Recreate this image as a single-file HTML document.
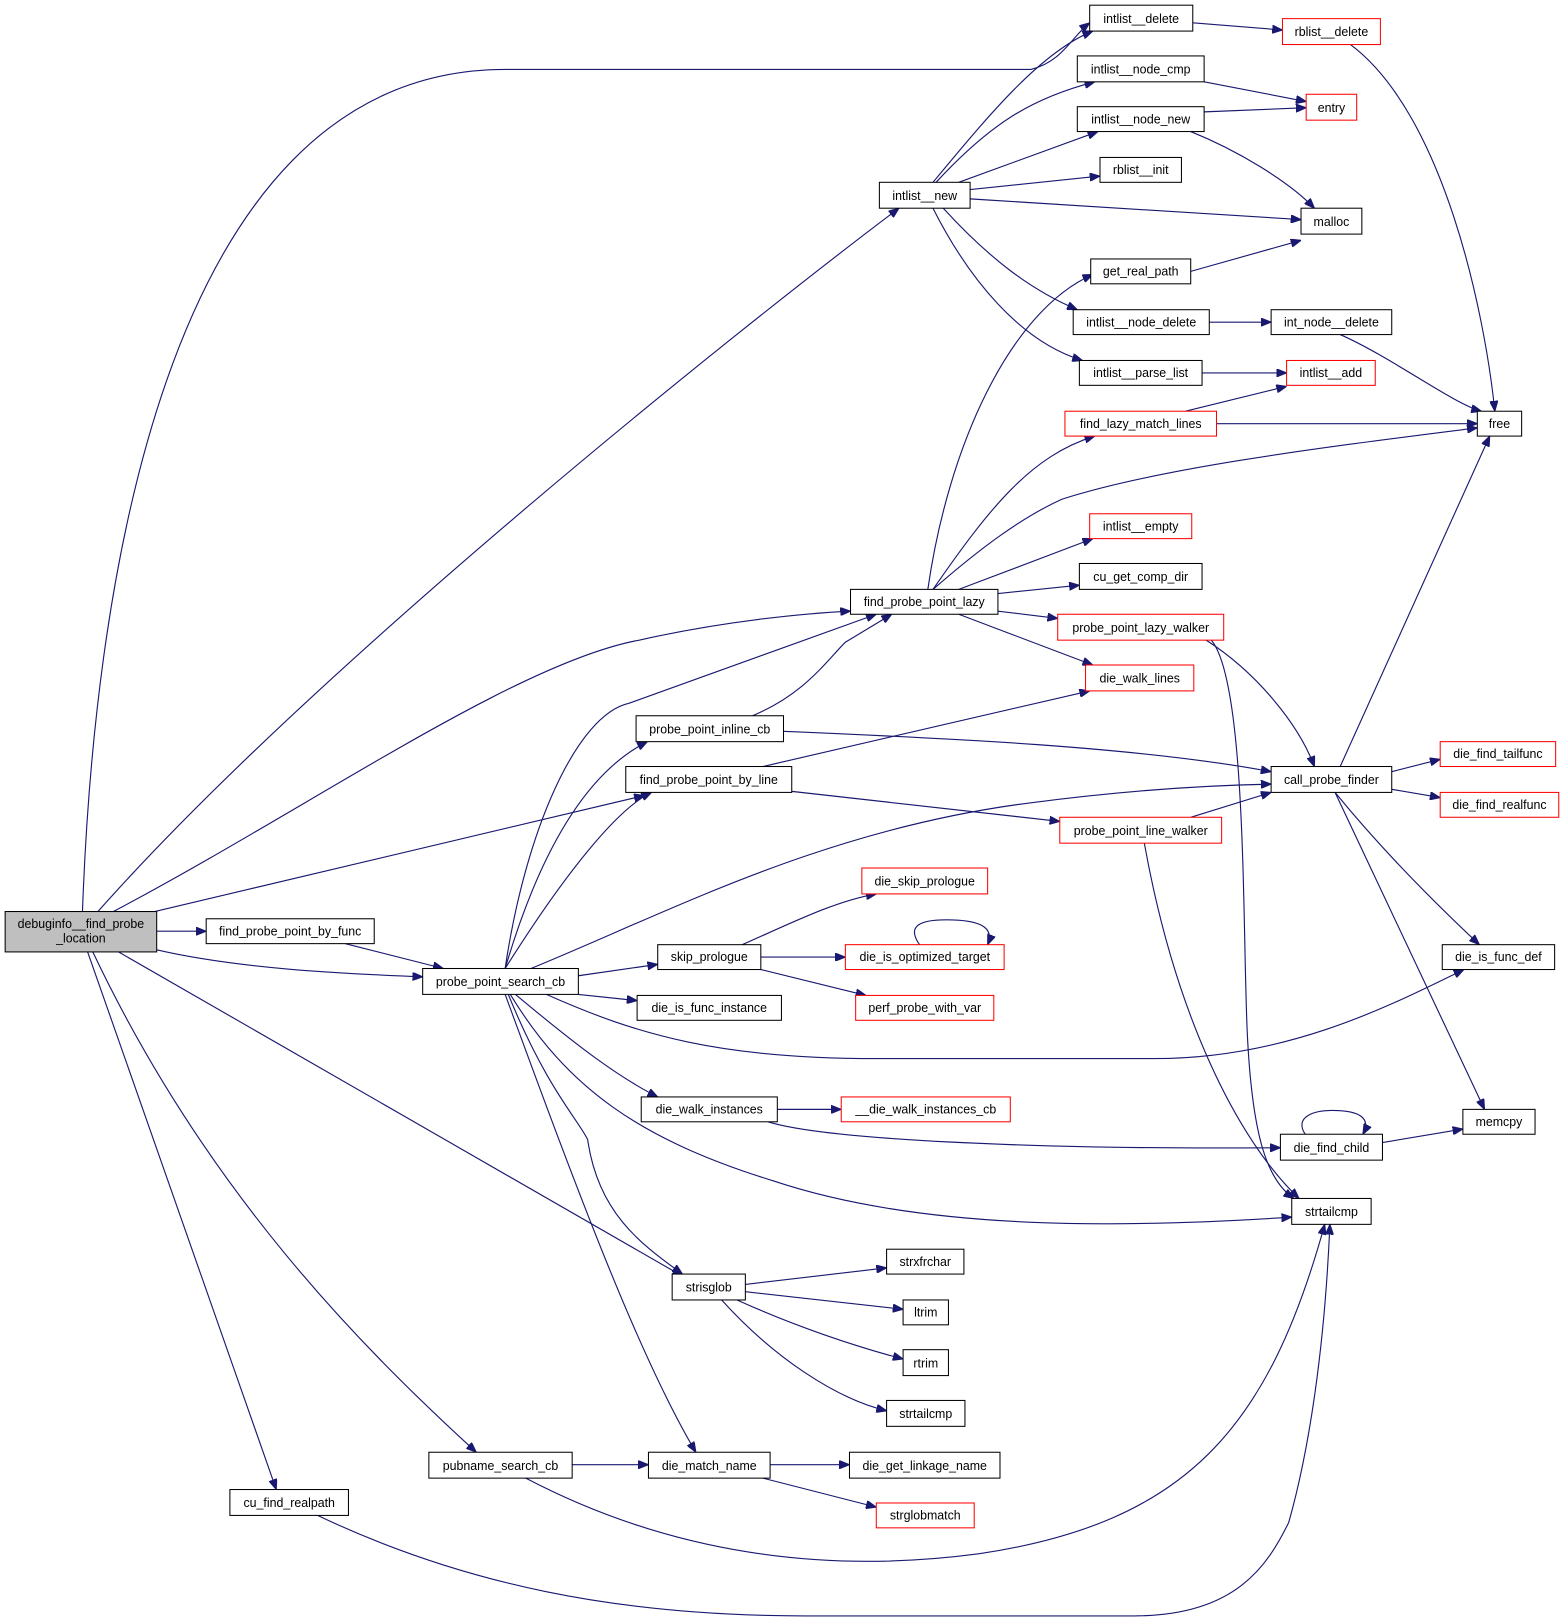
<!DOCTYPE html>
<html><head><meta charset="utf-8"><style>
html,body{margin:0;padding:0;background:#fff;}
svg{display:block;}
text{font-family:"Liberation Sans",sans-serif;font-size:12px;fill:#000;}
.e{fill:none;stroke:#191970;stroke-width:1.1;marker-end:url(#a);}
.n{fill:#fff;stroke:#000;stroke-width:1;}
.r{fill:#fff;stroke:#ff0000;stroke-width:1;}
</style></head><body>
<svg width="1567" height="1619" viewBox="0 0 1520 1563" preserveAspectRatio="none" xmlns="http://www.w3.org/2000/svg">
<defs><marker id="a" markerWidth="10" markerHeight="8" refX="10" refY="4" orient="auto" markerUnits="userSpaceOnUse"><path d="M0,0 L10,4 L0,8 z" fill="#191970" stroke="#191970"/></marker></defs>
<g>
<path class="e" d="M80,880 C90,600 150,67 490,67 L1000,67 C1030,60 1040,35 1057,22"/>
<path class="e" d="M95,880 C300,650 700,330 872,201"/>
<path class="e" d="M110,880 C300,780 500,640 620,618 C700,600 780,592 825,590"/>
<path class="e" d="M150,880 L625,768"/>
<path class="e" d="M152,899 L200,899"/>
<path class="e" d="M152,917 C230,935 330,940 410,943"/>
<path class="e" d="M115,919 L662,1232"/>
<path class="e" d="M90,919 C200,1150 350,1300 462,1402"/>
<path class="e" d="M85,919 L268,1438"/>
<path class="e" d="M335,911 L430,935"/>
<path class="e" d="M490,935 C510,800 560,690 610,679 L850,593"/>
<path class="e" d="M490,935 C530,800 580,740 628,716"/>
<path class="e" d="M490,935 C550,840 600,780 632,765"/>
<path class="e" d="M515,935 C650,880 800,800 1000,775 C1100,762 1180,758 1233,757"/>
<path class="e" d="M561,942 L638,931"/>
<path class="e" d="M561,960 L618,966"/>
<path class="e" d="M530,960 C620,1000 700,1022 850,1022 L1120,1022 C1250,1022 1350,970 1420,936"/>
<path class="e" d="M500,960 C560,1010 600,1040 638,1059"/>
<path class="e" d="M495,960 C550,1050 620,1100 750,1140 C900,1190 1100,1185 1253,1175"/>
<path class="e" d="M493,960 C530,1050 560,1080 570,1100 C580,1170 620,1200 662,1230"/>
<path class="e" d="M490,960 C560,1150 620,1310 675,1402"/>
<path class="e" d="M900,569 C920,430 980,300 1060,265"/>
<path class="e" d="M905,569 C960,490 1000,440 1062,421"/>
<path class="e" d="M905,569 C950,530 990,500 1030,482 C1130,450 1300,430 1433,413"/>
<path class="e" d="M930,569 L1060,520"/>
<path class="e" d="M968,573 L1047,565"/>
<path class="e" d="M968,590 L1026,597"/>
<path class="e" d="M930,593 L1060,642"/>
<path class="e" d="M905,176 C960,110 1010,50 1060,30"/>
<path class="e" d="M908,176 C960,120 1000,95 1062,79"/>
<path class="e" d="M930,176 L1065,127"/>
<path class="e" d="M941,183 L1067,170"/>
<path class="e" d="M941,192 L1262,212"/>
<path class="e" d="M915,201 C960,250 1000,280 1045,299"/>
<path class="e" d="M905,201 C940,270 990,330 1050,348"/>
<path class="e" d="M1157,22 L1244,29"/>
<path class="e" d="M1168,79 L1267,98"/>
<path class="e" d="M1168,108 L1267,104"/>
<path class="e" d="M1155,127 C1200,145 1250,175 1275,201"/>
<path class="e" d="M1310,43 C1400,110 1440,300 1450,397"/>
<path class="e" d="M1155,262 L1262,232"/>
<path class="e" d="M1173,311 L1233,311"/>
<path class="e" d="M1300,323 C1350,345 1410,390 1437,397"/>
<path class="e" d="M1166,360 L1248,360"/>
<path class="e" d="M1150,397 L1248,373"/>
<path class="e" d="M1180,409 L1433,409"/>
<path class="e" d="M1170,618 C1220,650 1260,700 1275,740"/>
<path class="e" d="M1175,618 C1210,660 1205,900 1210,1000 C1215,1100 1230,1140 1255,1157"/>
<path class="e" d="M730,691 C780,670 800,640 820,620 L865,593"/>
<path class="e" d="M760,706 C900,712 1100,720 1233,745"/>
<path class="e" d="M740,740 L1057,667"/>
<path class="e" d="M768,764 L1028,793"/>
<path class="e" d="M1155,789 L1233,765"/>
<path class="e" d="M1110,814 C1140,980 1200,1100 1260,1157"/>
<path class="e" d="M1300,740 L1445,421"/>
<path class="e" d="M1350,745 L1397,733"/>
<path class="e" d="M1350,762 L1397,770"/>
<path class="e" d="M1295,765 C1340,820 1390,870 1435,912"/>
<path class="e" d="M1295,765 L1440,1071"/>
<path class="e" d="M720,912 C770,890 810,870 850,863"/>
<path class="e" d="M738,924 L820,924"/>
<path class="e" d="M738,936 L840,961"/>
<path class="e" d="M892,912 C880,895 890,888 918,888 C950,888 965,895 958,912"/>
<path class="e" d="M754,1071 L816,1071"/>
<path class="e" d="M745,1083 C800,1100 1000,1110 1242,1108"/>
<path class="e" d="M1266,1095 C1255,1078 1275,1072 1292,1072 C1320,1072 1330,1080 1322,1095"/>
<path class="e" d="M1341,1103 L1419,1090"/>
<path class="e" d="M723,1240 L860,1224"/>
<path class="e" d="M723,1247 L876,1264"/>
<path class="e" d="M715,1255 C770,1280 830,1300 876,1312"/>
<path class="e" d="M700,1255 C750,1310 810,1350 860,1362"/>
<path class="e" d="M555,1414 L629,1414"/>
<path class="e" d="M510,1427 C650,1500 800,1520 950,1500 C1150,1470 1230,1380 1285,1182"/>
<path class="e" d="M747,1414 L824,1414"/>
<path class="e" d="M740,1427 L850,1455"/>
<path class="e" d="M308,1463 C450,1530 600,1560 780,1560 L1100,1560 C1200,1560 1230,1510 1250,1470 C1270,1400 1285,1300 1290,1182"/>
</g>
<g>
<rect x="5" y="880" width="147" height="39" fill="#bfbfbf" stroke="#000"/>
<text x="78.5" y="896" text-anchor="middle">debuginfo__find_probe</text>
<text x="78.5" y="910" text-anchor="middle">_location</text>
</g>
<g text-anchor="middle">
<rect class="n" x="200" y="887" width="163" height="24"/><text x="281.5" y="903">find_probe_point_by_func</text>
<rect class="n" x="410" y="935" width="151" height="25"/><text x="485.5" y="952">probe_point_search_cb</text>
<rect class="n" x="1057" y="5" width="100" height="25"/><text x="1107" y="22">intlist__delete</text>
<rect class="r" x="1244" y="18" width="95" height="25"/><text x="1291.5" y="35">rblist__delete</text>
<rect class="n" x="1045" y="54" width="123" height="25"/><text x="1106.5" y="71">intlist__node_cmp</text>
<rect class="r" x="1267" y="91" width="49" height="25"/><text x="1291.5" y="108">entry</text>
<rect class="n" x="1045" y="103" width="123" height="24"/><text x="1106.5" y="119">intlist__node_new</text>
<rect class="n" x="1067" y="152" width="79" height="24"/><text x="1106.5" y="168">rblist__init</text>
<rect class="n" x="853" y="176" width="88" height="25"/><text x="897" y="193">intlist__new</text>
<rect class="n" x="1262" y="201" width="59" height="25"/><text x="1291.5" y="218">malloc</text>
<rect class="n" x="1058" y="250" width="97" height="24"/><text x="1106.5" y="266">get_real_path</text>
<rect class="n" x="1041" y="299" width="132" height="24"/><text x="1107" y="315">intlist__node_delete</text>
<rect class="n" x="1233" y="299" width="117" height="24"/><text x="1291.5" y="315">int_node__delete</text>
<rect class="n" x="1047" y="348" width="119" height="24"/><text x="1106.5" y="364">intlist__parse_list</text>
<rect class="r" x="1248" y="348" width="86" height="24"/><text x="1291" y="364">intlist__add</text>
<rect class="r" x="1033" y="397" width="147" height="24"/><text x="1106.5" y="413">find_lazy_match_lines</text>
<rect class="n" x="1433" y="397" width="43" height="24"/><text x="1454.5" y="413">free</text>
<rect class="r" x="1057" y="496" width="99" height="24"/><text x="1106.5" y="512">intlist__empty</text>
<rect class="n" x="1047" y="544" width="119" height="25"/><text x="1106.5" y="561">cu_get_comp_dir</text>
<rect class="n" x="825" y="569" width="143" height="24"/><text x="896.5" y="585">find_probe_point_lazy</text>
<rect class="r" x="1026" y="593" width="161" height="25"/><text x="1106.5" y="610">probe_point_lazy_walker</text>
<rect class="r" x="1053" y="642" width="105" height="25"/><text x="1105.5" y="659">die_walk_lines</text>
<rect class="n" x="617" y="691" width="143" height="25"/><text x="688.5" y="708">probe_point_inline_cb</text>
<rect class="n" x="607" y="740" width="161" height="25"/><text x="687.5" y="757">find_probe_point_by_line</text>
<rect class="n" x="1233" y="740" width="117" height="25"/><text x="1291.5" y="757">call_probe_finder</text>
<rect class="r" x="1397" y="716" width="112" height="24"/><text x="1453" y="732">die_find_tailfunc</text>
<rect class="r" x="1397" y="765" width="115" height="24"/><text x="1454.5" y="781">die_find_realfunc</text>
<rect class="r" x="1028" y="789" width="157" height="25"/><text x="1106.5" y="806">probe_point_line_walker</text>
<rect class="r" x="836" y="838" width="122" height="25"/><text x="897" y="855">die_skip_prologue</text>
<rect class="n" x="638" y="912" width="100" height="24"/><text x="688" y="928">skip_prologue</text>
<rect class="r" x="820" y="912" width="154" height="24"/><text x="897" y="928">die_is_optimized_target</text>
<rect class="n" x="1399" y="912" width="109" height="24"/><text x="1453.5" y="928">die_is_func_def</text>
<rect class="n" x="618" y="961" width="140" height="24"/><text x="688" y="977">die_is_func_instance</text>
<rect class="r" x="830" y="961" width="134" height="24"/><text x="897" y="977">perf_probe_with_var</text>
<rect class="n" x="622" y="1059" width="132" height="24"/><text x="688" y="1075">die_walk_instances</text>
<rect class="r" x="816" y="1059" width="164" height="24"/><text x="898" y="1075">__die_walk_instances_cb</text>
<rect class="n" x="1419" y="1071" width="70" height="24"/><text x="1454" y="1087">memcpy</text>
<rect class="n" x="1242" y="1095" width="99" height="25"/><text x="1291.5" y="1112">die_find_child</text>
<rect class="n" x="1253" y="1157" width="77" height="25"/><text x="1291.5" y="1174">strtailcmp</text>
<rect class="n" x="860" y="1206" width="75" height="24"/><text x="897.5" y="1222">strxfrchar</text>
<rect class="n" x="652" y="1230" width="71" height="25"/><text x="687.5" y="1247">strisglob</text>
<rect class="n" x="876" y="1255" width="44" height="24"/><text x="898" y="1271">ltrim</text>
<rect class="n" x="876" y="1303" width="44" height="25"/><text x="898" y="1320">rtrim</text>
<rect class="n" x="860" y="1352" width="76" height="25"/><text x="898" y="1369">strtailcmp</text>
<rect class="n" x="416" y="1402" width="139" height="25"/><text x="485.5" y="1419">pubname_search_cb</text>
<rect class="n" x="629" y="1402" width="118" height="25"/><text x="688" y="1419">die_match_name</text>
<rect class="n" x="824" y="1402" width="146" height="25"/><text x="897" y="1419">die_get_linkage_name</text>
<rect class="r" x="850" y="1451" width="95" height="24"/><text x="897.5" y="1467">strglobmatch</text>
<rect class="n" x="223" y="1438" width="115" height="25"/><text x="280.5" y="1455">cu_find_realpath</text>
</g>
</svg>
</body></html>
